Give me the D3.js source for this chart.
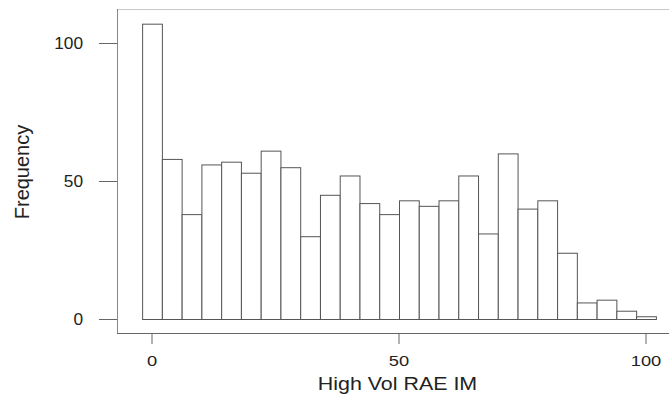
<!DOCTYPE html>
<html>
<head>
<meta charset="utf-8">
<script src="https://cdn.jsdelivr.net/npm/d3@7"></script>
<style>
  body { margin: 0; background: #fff; }
  text { font-family: "Liberation Sans", Arial, sans-serif; fill: #222; }
</style>
</head>
<body>
<div id="chart"></div>
<script>
// histogram data: bin centres (width 4) and counts
const binCenters = [0, 4, 8, 12, 16, 20, 24, 28, 32, 36, 40, 44, 48, 52, 56, 60, 64, 68, 72, 76, 80, 84, 88, 92, 96, 100];
const counts = [107, 58, 38, 56, 57, 53, 61, 55, 30, 45, 52, 42, 38, 43, 41, 43, 52, 31, 60, 40, 43, 24, 6, 7, 3, 1];
const binWidth = 4;
const xTicks = [0, 50, 100];
const yTicks = [0, 50, 100];

const W = 669, H = 399;
const box = {left: 117, top: 9, bottom: 333};

const svg = d3.select("#chart").append("svg")
    .attr("width", W)
    .attr("height", H);

// scales
const x = d3.scaleLinear().domain([0, 100]).range([152, 646]);
const y = d3.scaleLinear().domain([0, 100]).range([319, 43]);

// frame (right side runs off the picture)
svg.append("line")
    .attr("x1", box.left).attr("x2", W)
    .attr("y1", box.top + 0.5).attr("y2", box.top + 0.5)
    .attr("stroke", "#c8c8c8");
svg.append("line")
    .attr("x1", box.left + 0.5).attr("x2", box.left + 0.5)
    .attr("y1", box.top).attr("y2", box.bottom)
    .attr("stroke", "#888");
svg.append("line")
    .attr("x1", box.left).attr("x2", W)
    .attr("y1", box.bottom + 0.5).attr("y2", box.bottom + 0.5)
    .attr("stroke", "#666");

// bars
svg.append("g").selectAll("rect")
    .data(counts)
    .join("rect")
    .attr("x", (d, i) => x(binCenters[i] - binWidth / 2) + 0.5)
    .attr("y", d => y(d) + 0.5)
    .attr("width", (d, i) => x(binCenters[i] + binWidth / 2) - x(binCenters[i] - binWidth / 2))
    .attr("height", d => y(0) - y(d))
    .attr("fill", "#fff")
    .attr("stroke", "#555")
    .attr("stroke-width", 1);

// x axis
const gx = svg.append("g")
    .attr("transform", `translate(0,${box.bottom})`)
    .call(d3.axisBottom(x).tickValues(xTicks).tickSize(11).tickFormat(d3.format("d")));
gx.select(".domain").remove();
gx.selectAll(".tick line").attr("stroke", "#666");
gx.selectAll(".tick text")
    .attr("y", 33)
    .attr("dy", null)
    .attr("font-size", 15.5)
    .attr("transform", "scale(1.18,1)")
    .attr("x", function(d) { return 0; });
// keep centred after the stretch: shift tick groups instead
gx.selectAll(".tick").each(function(d) {
    d3.select(this).attr("transform", `translate(${x(d)},0)`);
});

// y axis
const gy = svg.append("g")
    .attr("transform", `translate(${box.left},0)`)
    .call(d3.axisLeft(y).tickValues(yTicks).tickSize(18).tickFormat(d3.format("d")));
gy.select(".domain").remove();
gy.selectAll(".tick line").attr("stroke", "#666");
gy.selectAll(".tick text")
    .attr("x", -34 / 1.08)
    .attr("dy", "0.36em")
    .attr("font-size", 16)
    .attr("transform", "scale(1.08,1)");

// axis titles
svg.append("text")
    .attr("transform", "translate(397.5,390) scale(1.19,1)")
    .attr("text-anchor", "middle")
    .attr("font-size", 18)
    .text("High Vol RAE IM");

svg.append("text")
    .attr("transform", "translate(29,172) rotate(-90)")
    .attr("text-anchor", "middle")
    .attr("font-size", 20)
    .text("Frequency");
</script>
</body>
</html>
